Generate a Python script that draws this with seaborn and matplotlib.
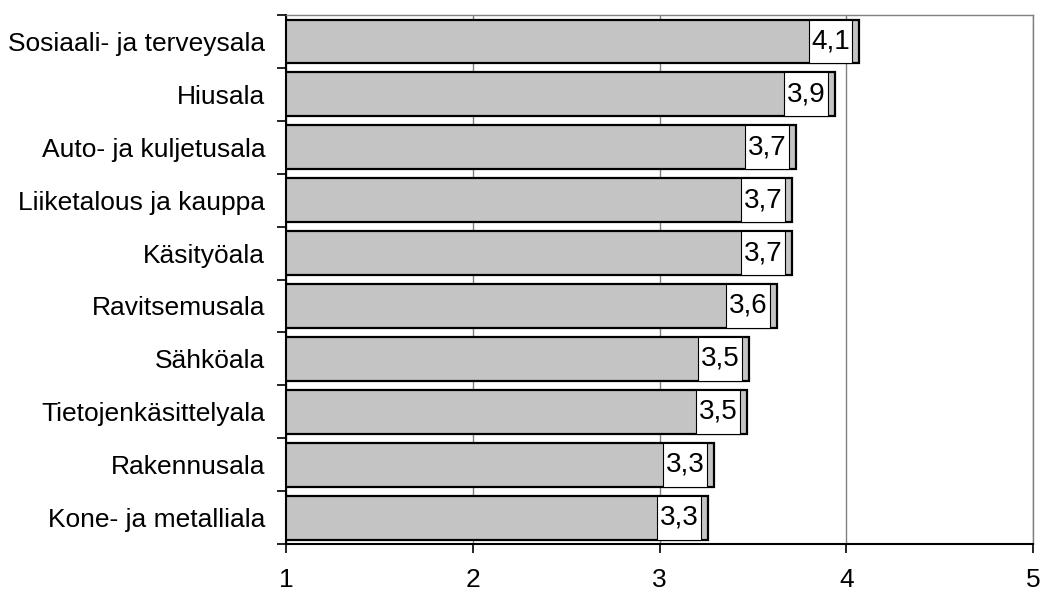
import matplotlib
matplotlib.use("Agg")
import matplotlib.pyplot as plt
import seaborn as sns
import numpy as np
import pandas as pd
from matplotlib.patches import Rectangle

categories = ["Sosiaali- ja terveysala", "Hiusala", "Auto- ja kuljetusala",
              "Liiketalous ja kauppa", "Käsityöala", "Ravitsemusala", "Sähköala",
              "Tietojenkäsittelyala", "Rakennusala", "Kone- ja metalliala"]
values = [4.07, 3.94, 3.73, 3.71, 3.71, 3.63, 3.48, 3.47, 3.29, 3.26]
xticks = [1, 2, 3, 4, 5]

sns.set_theme(style="white")
plt.rcParams['font.family'] = ['Liberation Sans', 'DejaVu Sans']

df = pd.DataFrame({"ala": categories, "arvo": values})

fig = plt.figure(figsize=(10.4, 5.91), dpi=100)
ax = fig.add_axes([0.275, 0.0795, 0.7183, 0.895])

sns.barplot(data=df, x="arvo", y="ala", orient="h", color="#C4C4C4",
            saturation=1, edgecolor="black", linewidth=1.6, width=0.83, ax=ax)

ax.set_xlim(1, 5)
ax.set_ylim(len(categories) - 0.5, -0.5)
ax.set_xticks(xticks)
ax.set_xticklabels([str(t) for t in xticks])
ax.set_xlabel("")
ax.set_ylabel("")
ax.grid(axis="x", color="#808080", linewidth=1)
ax.grid(axis="y", visible=False)
ax.set_axisbelow(True)

# label boxes inside bar ends
for bar, v in zip(ax.patches, values):
    y0 = bar.get_y()
    h = bar.get_height()
    x1 = bar.get_x() + bar.get_width()
    bw = 0.235
    gap = 0.037
    rect = Rectangle((x1 - gap - bw, y0), bw, h, facecolor="white",
                     edgecolor="black", linewidth=0.8, zorder=5)
    ax.add_patch(rect)
    ax.text(x1 - gap - bw / 2, y0 + h / 2, f"{v:.1f}".replace(".", ","),
            ha="center", va="center", fontsize=20, color="black", zorder=6)

for s in ["top", "right"]:
    ax.spines[s].set_color("#808080")
    ax.spines[s].set_linewidth(1)
for s in ["left", "bottom"]:
    ax.spines[s].set_color("black")
    ax.spines[s].set_linewidth(1.5)

ax.set_yticks(np.arange(-0.5, len(categories), 1), minor=True)
ax.tick_params(axis="y", which="major", length=0, pad=15, labelsize=19,
               labelcolor="black")
ax.tick_params(axis="y", which="minor", length=6.5, width=1.2, color="black",
               direction="out", left=True)
ax.tick_params(axis="x", which="major", length=6.5, width=1.2, color="black",
               direction="out", bottom=True, pad=11, labelsize=19,
               labelcolor="black")

fig.savefig("out.png", dpi=100)
